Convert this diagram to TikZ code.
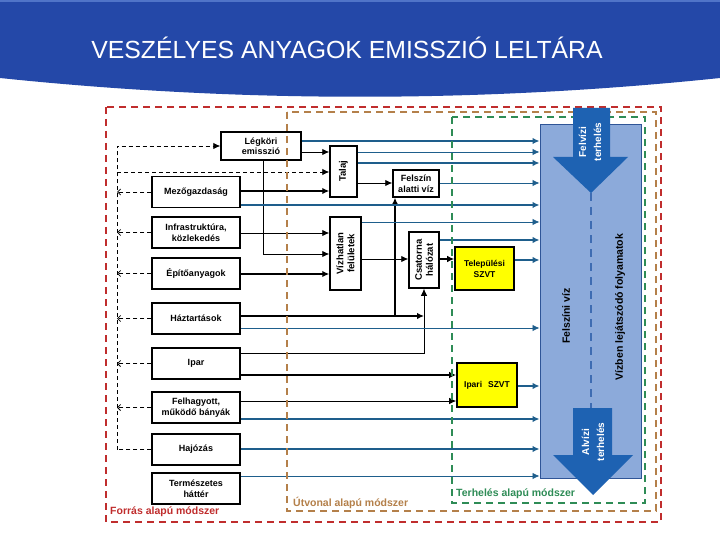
\documentclass[tikz,border=0pt]{standalone}
\usepackage{fontspec}
\setmainfont{Liberation Sans}
\usetikzlibrary{arrows.meta}
\definecolor{hdr}{RGB}{36,72,168}
\definecolor{hdrlight}{RGB}{80,116,200}
\definecolor{teal}{RGB}{30,94,140}
\definecolor{arrblue}{RGB}{30,98,178}
\definecolor{rectfill}{RGB}{140,170,218}
\definecolor{rectline}{RGB}{47,85,151}
\definecolor{dashblue}{RGB}{62,108,178}
\definecolor{mred}{RGB}{192,45,45}
\definecolor{mbrown}{RGB}{180,128,74}
\definecolor{mgreen}{RGB}{46,140,86}
\definecolor{ylw}{RGB}{255,255,0}
\tikzset{
  tip/.style={-{Latex[length=7pt,width=6.5pt]}},
  srcbox/.style={draw=black, line width=1.5pt, fill=white, minimum width=88pt, minimum height=31pt, inner sep=0pt, align=center, font=\fontsize{9}{10.5}\selectfont\bfseries},
  midbox/.style={draw=black, line width=1.5pt, fill=white, inner sep=0pt, align=center, font=\fontsize{9}{10.5}\selectfont\bfseries},
  ylwbox/.style={draw=black, line width=1.6pt, fill=ylw, inner sep=0pt, align=center, font=\fontsize{8.5}{11}\selectfont\bfseries},
  rotlbl/.style={rotate=90, align=center, inner sep=0pt, font=\fontsize{9.5}{11}\selectfont\bfseries},
  blk/.style={draw=black, line width=0.9pt, tip},
  blkthk/.style={draw=black, line width=1.6pt, tip},
  blu/.style={draw=teal, line width=0.8pt, tip},
  blumed/.style={draw=teal, line width=1.2pt, tip},
  bluthk/.style={draw=teal, line width=1.7pt, tip},
  dsh/.style={draw=black, line width=0.8pt, dash pattern=on 4pt off 3pt},
  barb/.style={-{Straight Barb[length=3pt,width=6pt]}},
  methodbox/.style={line width=2.4pt, dash pattern=on 7pt off 5pt},
  methodlbl/.style={anchor=west, inner sep=0pt, font=\fontsize{10.5}{12}\selectfont\bfseries},
}
\begin{document}
\begin{tikzpicture}[x=1pt,y=-1pt]
\useasboundingbox (0,0) rectangle (720,540);
\fill[white] (0,0) rectangle (720,540);
% header
\fill[hdr] (0,0) -- (720,0) -- (720,78) .. controls (480,103) and (240,103) .. (0,78) -- cycle;
\fill[hdrlight] (0,0) rectangle (720,2);
\node[text=white, font=\fontsize{24.8}{28}\selectfont, inner sep=0pt] (title) at (347,48) {VESZÉLYES ANYAGOK EMISSZIÓ LELTÁRA};

% source boxes
\node[srcbox] (mez) at (196,192) {Mezőgazdaság};
\node[srcbox] (inf) at (196,232.5) {Infrastruktúra,\\közlekedés};
\node[srcbox] (epi) at (196,273.5) {Építőanyagok};
\node[srcbox] (haz) at (196,318.5) {Háztartások};
\node[srcbox] (ipar) at (196,363.5) {Ipar};
\node[srcbox] (fel) at (196,407.5) {Felhagyott,\\működő bányák};
\node[srcbox] (haj) at (196,449.5) {Hajózás};
\node[srcbox] (term) at (196,488.5) {Természetes\\háttér};

% middle boxes
\node[midbox, minimum width=80pt, minimum height=28pt] (leg) at (261,146) {Légköri\\emisszió};
\node[midbox, minimum width=27pt, minimum height=51pt] (talaj) at (343.5,171.5) {};
\node[rotlbl] (talajlbl) at (talaj.center) {Talaj};
\node[midbox, minimum width=46pt, minimum height=27pt] (fav) at (416,183.5) {Felszín\\alatti víz};
\node[midbox, minimum width=31pt, minimum height=73pt] (viz) at (345.5,253.5) {};
\node[rotlbl] (vizlbl) at (viz.center) {Vízhatlan\\felületek};
\node[midbox, minimum width=30pt, minimum height=56pt] (csat) at (424,260) {};
\node[rotlbl] (csatlbl) at (csat.center) {Csatorna\\hálózat};
\node[ylwbox, minimum width=59pt, minimum height=43pt] (tel) at (484.5,268.5) {Települési\\SZVT};
\node[ylwbox, minimum width=60pt, minimum height=44pt] (isz) at (487,385) {Ipari\hspace{6pt}SZVT};

% receiving water body
\node[draw=rectline, line width=1pt, fill=rectfill, minimum width=101pt, minimum height=353pt, inner sep=0pt] (fv) at (590.5,301.5) {};

% row coordinates
\foreach \r in {141,152,163,172,183,191,205,222,233,240,254,259,260,274,316,328,353,375,386,401,419,449,476}
  \coordinate (y\r) at (0,\r);
\coordinate (cTop) at (117,146);
\coordinate (cBot) at (117,449.5);
\coordinate (jfav) at (395,316);

% dashed feedback to atmosphere
\draw[dsh, tip] (cBot) -- (cTop) -- (leg.west);
\draw[dsh] (haj.west) -- (cBot);
\draw[dsh, tip] (cTop |- y172) -- (talaj.west |- y172);
\foreach \b in {mez,inf,epi,haz,ipar,fel}
  \draw[dsh, barb] (\b.west) -- (\b.west -| cTop);

% black connectors
\draw[blk] (leg.east |- y152) -- (talaj.west |- y152);
\draw[blkthk] (mez.east |- y191) -- (talaj.west |- y191);
\draw[blk] ([xshift=2pt]leg.south) |- (viz.west |- y254);
\draw[blk] (inf.east |- y233) -- (viz.west |- y233);
\draw[blkthk] (epi.east |- y274) -- (viz.west |- y274);
\draw[blk] (talaj.east |- y183) -- (fav.west |- y183);
\draw[blk] (viz.east |- y259) -- (csat.west |- y259);
\draw[blk, line width=1.2pt] (csat.east |- y259) -- (tel.west |- y259);
\draw[blkthk] (haz.east |- y316) -- (csat.south |- y316);
\draw[blk, line width=1.2pt] (jfav) -- (fav.south -| jfav);
\draw[blk] (ipar.east |- y353) -| (csat.south);
\draw[blkthk] (ipar.east |- y375) -- (isz.west |- y375);
\draw[blk] (fel.east |- y401) -- (isz.west |- y401);

% blue connectors into surface water
\draw[bluthk] (leg.east |- y141) -- (fv.west |- y141);
\draw[blu] (talaj.east |- y152) -- (fv.west |- y152);
\draw[blumed] (talaj.east |- y163) -- (fv.west |- y163);
\draw[blu] (fav.east |- y183) -- (fv.west |- y183);
\draw[bluthk] (mez.east |- y205) -- (fv.west |- y205);
\draw[blu] (viz.east |- y222) -- (fv.west |- y222);
\draw[blumed] (csat.east |- y240) -- (fv.west |- y240);
\draw[blumed] (tel.east |- y260) -- (fv.west |- y260);
\draw[blu] (haz.east |- y328) -- (fv.west |- y328);
\draw[blumed] (isz.east |- y386) -- (fv.west |- y386);
\draw[bluthk] (fel.east |- y419) -- (fv.west |- y419);
\draw[bluthk] (haj.east |- y449) -- (fv.west |- y449);
\draw[blu] (term.east |- y476) -- (fv.west |- y476);

% method boxes
\draw[methodbox, mred] (106,107) rectangle (661,522);
\draw[methodbox, mbrown] (287,112) rectangle (656,511);
\draw[methodbox, mgreen] (452,117) rectangle (645,503);
\node[methodlbl, text=mred] (lblred) at (110,512) {Forrás alapú módszer};
\node[methodlbl, text=mbrown] (lblbrown) at (293,503) {Útvonal alapú módszer};
\node[methodlbl, text=mgreen] (lblgreen) at (456,494) {Terhelés alapú módszer};

% surface water content
\draw[dashblue, line width=2.4pt, dash pattern=on 8pt off 6pt] (591,193) -- (591,408);
\fill[arrblue] (573,108) -- (610,108) -- (610,157) -- (628,157) -- (591,193) -- (553,157) -- (573,157) -- cycle;
\fill[arrblue] (573,408) -- (612,408) -- (612,455) -- (633,455) -- (593,495) -- (553,455) -- (573,455) -- cycle;
\node[rotlbl, text=white, font=\fontsize{10}{15}\selectfont\bfseries] (felviz) at (590,142) {Felvízi\\terhelés};
\node[rotlbl, text=white, font=\fontsize{10}{15}\selectfont\bfseries] (alviz) at (593,442) {Alvízi\\terhelés};
\node[rotlbl, font=\fontsize{10.5}{12}\selectfont\bfseries] (felszlbl) at (566,316) {Felszíni víz};
\node[rotlbl, font=\fontsize{10.5}{12}\selectfont\bfseries] (folylbl) at (620,307) {Vízben lejátszódó folyamatok};
\end{tikzpicture}
\end{document}
